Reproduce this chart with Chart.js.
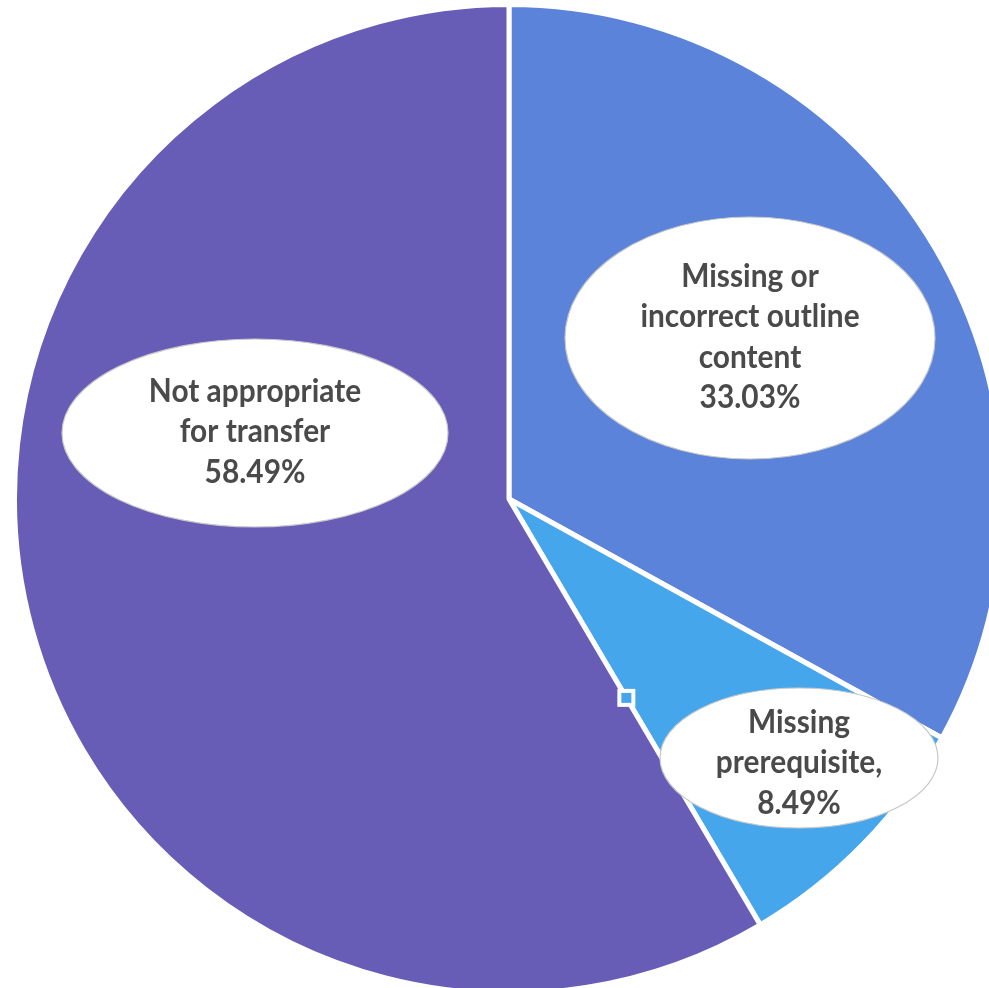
<!DOCTYPE html>
<html>
<head>
<meta charset="utf-8">
<script src="https://cdn.jsdelivr.net/npm/chart.js@4.4.1/dist/chart.umd.min.js"></script>
<style>
  html, body { margin: 0; padding: 0; background: #ffffff; overflow: hidden; }
  #wrap { position: absolute; left: 0; top: 0; width: 1018px; height: 998px; }
</style>
</head>
<body>
<div id="wrap"><canvas id="pieChart"></canvas></div>
<script>
// data
const categories = [
  "Missing or incorrect outline content",
  "Missing prerequisite",
  "Not appropriate for transfer"
];
const shares = [33.03, 8.49, 58.49];
const labelLines = [
  ["Missing or", "incorrect outline", "content", "33.03%"],
  ["Missing", "prerequisite,", "8.49%"],
  ["Not appropriate", "for transfer", "58.49%"]
];
const sliceColors = ["#5B83DA", "#46A6EC", "#675DB7"];

// callout ellipses, offsets from the pie centre (px)
const callouts = [
  { dx: 241, dy: -161, rx: 185, ry: 121, ty: -1 },
  { dx: 290, dy: 259, rx: 139, ry: 70, ty: 5 },
  { dx: -254, dy: -66, rx: 193, ry: 94, ty: -1 }
];

const calloutPlugin = {
  id: "callouts",
  afterDatasetsDraw(chart) {
    const ctx = chart.ctx;
    const arcs = chart.getDatasetMeta(0).data;
    const cx = arcs[0].x, cy = arcs[0].y, r = arcs[0].outerRadius;

    // little selection handle on the prerequisite / transfer edge
    const a = arcs[2].startAngle;
    const hx = cx + Math.cos(a) * r * 0.467;
    const hy = cy + Math.sin(a) * r * 0.467;
    ctx.save();
    ctx.fillStyle = sliceColors[1];
    ctx.strokeStyle = "#ffffff";
    ctx.lineWidth = 4;
    ctx.fillRect(hx - 7, hy - 7, 14, 14);
    ctx.strokeRect(hx - 7, hy - 7, 14, 14);
    ctx.restore();

    callouts.forEach((c, i) => {
      const ex = cx + c.dx, ey = cy + c.dy;
      ctx.save();
      ctx.beginPath();
      ctx.ellipse(ex, ey, c.rx, c.ry, 0, 0, Math.PI * 2);
      ctx.fillStyle = "#ffffff";
      ctx.fill();
      ctx.strokeStyle = "#c8c8c8";
      ctx.lineWidth = 1.2;
      ctx.stroke();

      const lines = labelLines[i];
      const lh = 40.5;
      ctx.fillStyle = "#4a4a4a";
      ctx.textAlign = "center";
      ctx.textBaseline = "middle";
      ctx.font = "bold 29px Lato";
      lines.forEach((t, k) => {
        const y = ey + c.ty + (k - (lines.length - 1) / 2) * lh;
        ctx.save();
        ctx.translate(ex, y);
        ctx.scale(1.03, 1.1);
        ctx.fillText(t, 0, 0);
        ctx.restore();
      });
      ctx.restore();
    });
  }
};

new Chart(document.getElementById("pieChart"), {
  type: "pie",
  data: {
    labels: categories,
    datasets: [{
      data: shares,
      backgroundColor: sliceColors,
      borderColor: "#ffffff",
      borderWidth: 5
    }]
  },
  options: {
    responsive: true,
    maintainAspectRatio: false,
    animation: false,
    layout: { padding: 2 },
    plugins: {
      legend: { display: false },
      tooltip: { enabled: false }
    }
  },
  plugins: [calloutPlugin]
});
</script>
</body>
</html>
